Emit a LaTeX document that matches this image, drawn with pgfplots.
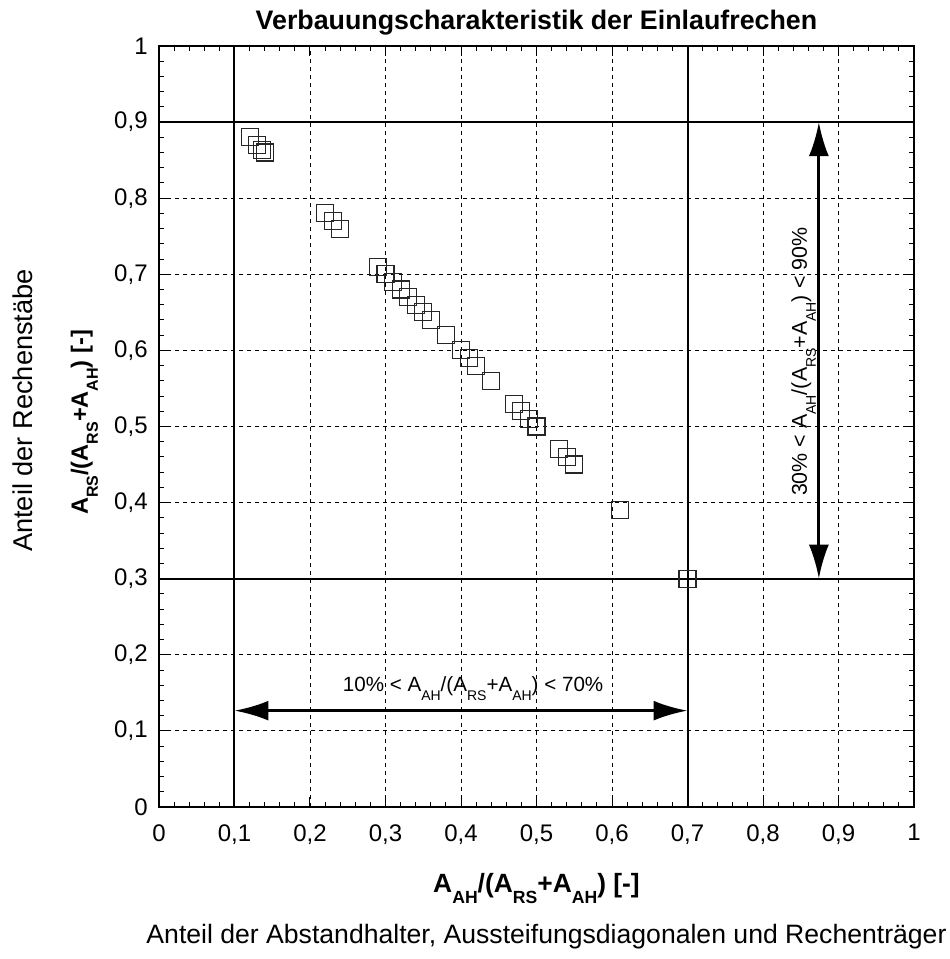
\documentclass[border=0pt,12pt]{standalone}
\usepackage{fontspec}
\setmainfont{Liberation Sans}
\usepackage{pgfplots}
\pgfplotsset{compat=1.18}
\usetikzlibrary{arrows.meta}
\newcommand{\sub}[1]{\raisebox{-5pt}{\fontsize{8}{9}\selectfont #1}}
\newcommand{\bsub}[1]{\raisebox{-5.5pt}{\fontsize{8.8}{10}\selectfont #1}}
\newcommand{\ssub}[1]{\raisebox{-4.5pt}{\fontsize{7}{8}\selectfont #1}}
\begin{document}
\begin{tikzpicture}
\begin{axis}[
  name=ax,
  width=377.5pt, height=380.5pt, scale only axis,
  xmin=0, xmax=1, ymin=0, ymax=1,
  xtick={0,0.1,0.2,0.3,0.4,0.5,0.6,0.7,0.8,0.9,1},
  ytick={0,0.1,0.2,0.3,0.4,0.5,0.6,0.7,0.8,0.9,1},
  minor tick num=4,
  grid=major,
  major grid style={dash pattern=on 2pt off 2pt, line width=0.45pt, black},
  tick style={black, line width=0.5pt},
  major tick length=5pt, minor tick length=2.5pt,
  axis line style={line width=0.6pt},
  /pgf/number format/use comma,
  /pgf/number format/assume math mode=true,
  ticklabel style={font=\fontsize{12}{14}\selectfont},
  xticklabel style={yshift=-4.5pt},
  yticklabel style={xshift=-1.5pt},
  clip=false,
]
\draw[line width=1pt] (axis cs:0.1,0) -- (axis cs:0.1,1);
\draw[line width=1pt] (axis cs:0.7,0) -- (axis cs:0.7,1);
\draw[line width=1pt] (axis cs:0,0.3) -- (axis cs:1,0.3);
\draw[line width=1pt] (axis cs:0,0.9) -- (axis cs:1,0.9);
\addplot[only marks, mark=square, mark size=4.25pt, mark options={line width=0.55pt, draw=black!85}] coordinates {
(0.12,0.88) (0.13,0.87) (0.137,0.863) (0.14,0.86)
(0.22,0.78) (0.23,0.77) (0.24,0.76) (0.24,0.76)
(0.29,0.71) (0.30,0.70) (0.31,0.69) (0.32,0.68) (0.33,0.67) (0.34,0.66) (0.34,0.66)
(0.35,0.65) (0.36,0.64) (0.38,0.62) (0.40,0.60) (0.41,0.59) (0.42,0.58) (0.42,0.58)
(0.44,0.56) (0.47,0.53) (0.47,0.53) (0.48,0.52) (0.49,0.51) (0.50,0.50)
(0.53,0.47) (0.54,0.46) (0.55,0.45) (0.61,0.39) (0.70,0.30)
};
\draw[line width=1.5pt, {Latex[length=17pt,width=10pt]}-{Latex[length=17pt,width=10pt]}] (axis cs:0.1,0.1266) -- (axis cs:0.7,0.1266);
\draw[line width=1.5pt, {Latex[length=17pt,width=10pt]}-{Latex[length=17pt,width=10pt]}] (axis cs:0.874,0.3) -- (axis cs:0.874,0.9);
\node[anchor=base, font=\fontsize{10.3}{12}\selectfont, inner sep=0pt] at (axis cs:0.416,0.1515) {10\% < A\ssub{AH}/(A\ssub{RS}+A\ssub{AH}) < 70\%};
\node[anchor=base, rotate=90, font=\fontsize{10.7}{12}\selectfont, inner sep=0pt] at (axis cs:0.858,0.585) {30\% < A\ssub{AH}/(A\ssub{RS}+A\ssub{AH}) < 90\%};
\end{axis}
\node[anchor=base, font=\fontsize{13.4}{15}\selectfont\bfseries, inner sep=0pt] at ([yshift=8pt]ax.north) {Verbauungscharakteristik der Einlaufrechen};
\node[anchor=base, font=\fontsize{13.2}{15}\selectfont\bfseries, inner sep=0pt] at ([yshift=-42.5pt]ax.south) {A\bsub{AH}/(A\bsub{RS}+A\bsub{AH}) [-]};
\node[anchor=base, font=\fontsize{13.3}{15}\selectfont, inner sep=0pt] at ([xshift=5pt,yshift=-68pt]ax.south) {Anteil der Abstandhalter, Aussteifungsdiagonalen und Rechenträger};
\node[anchor=base, rotate=90, font=\fontsize{11.8}{14}\selectfont\bfseries, inner sep=0pt] at ([xshift=-35.5pt,yshift=2pt]ax.west) {A\sub{RS}/(A\sub{RS}+A\sub{AH}) [-]};
\node[anchor=base, rotate=90, font=\fontsize{13.6}{15}\selectfont, inner sep=0pt] at ([xshift=-63pt,yshift=8pt]ax.west) {Anteil der Rechenstäbe};
\path ([shift={(-79.5pt,-76pt)}]ax.south west) rectangle ([shift={(18pt,23pt)}]ax.north east);
\end{tikzpicture}
\end{document}
